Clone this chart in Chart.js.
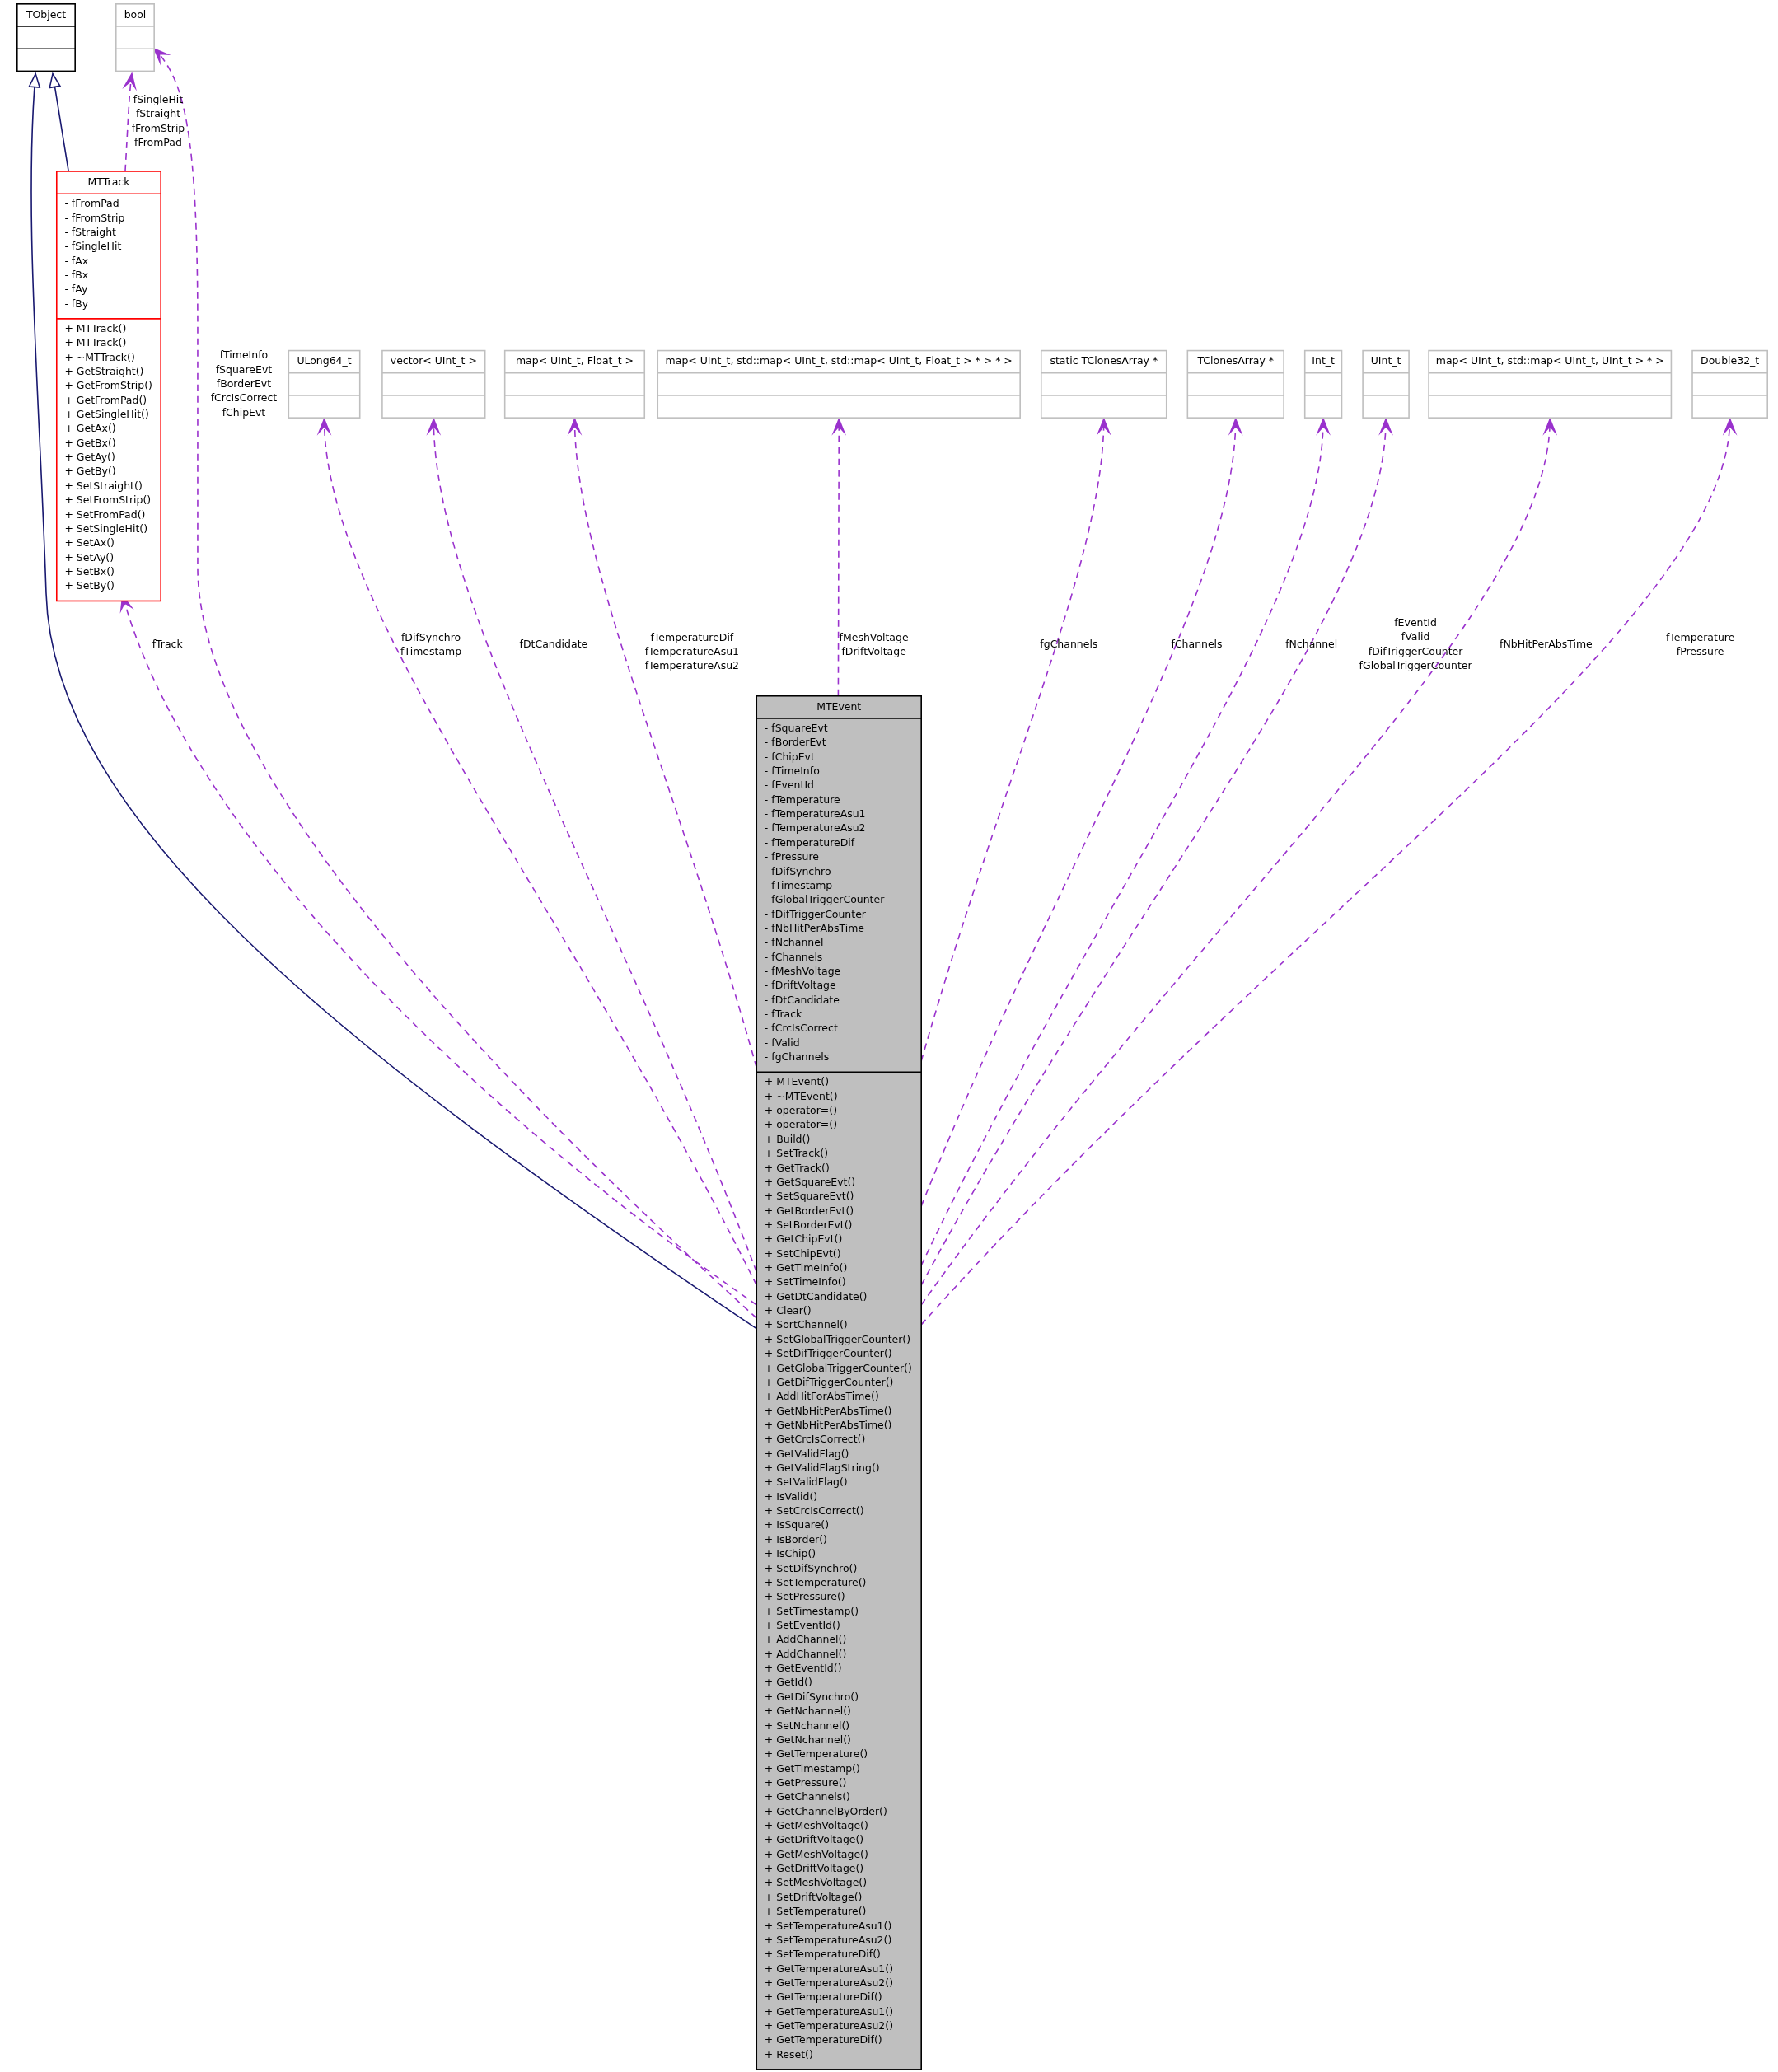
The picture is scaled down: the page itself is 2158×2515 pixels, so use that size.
<!DOCTYPE html>
<html><head><meta charset="utf-8">
<script src="https://cdn.jsdelivr.net/npm/chart.js@4/dist/chart.umd.min.js"></script>
<style>body{margin:0;background:#fff}#wrap{width:2158px;height:2515px}</style>
</head><body><div id="wrap"><canvas id="c" width="2158" height="2515"></canvas></div>
<script>
// class names, members, relation labels
const trackAttrs = ['fFromPad','fFromStrip','fStraight','fSingleHit','fAx','fBx','fAy','fBy'];
const trackMethods = ['MTTrack()','MTTrack()','~MTTrack()','GetStraight()','GetFromStrip()','GetFromPad()','GetSingleHit()','GetAx()','GetBx()','GetAy()','GetBy()','SetStraight()','SetFromStrip()','SetFromPad()','SetSingleHit()','SetAx()','SetAy()','SetBx()','SetBy()'];
const eventAttrs = ['fSquareEvt','fBorderEvt','fChipEvt','fTimeInfo','fEventId','fTemperature','fTemperatureAsu1','fTemperatureAsu2','fTemperatureDif','fPressure','fDifSynchro','fTimestamp','fGlobalTriggerCounter','fDifTriggerCounter','fNbHitPerAbsTime','fNchannel','fChannels','fMeshVoltage','fDriftVoltage','fDtCandidate','fTrack','fCrcIsCorrect','fValid','fgChannels'];
const eventMethods = ['MTEvent()','~MTEvent()','operator=()','operator=()','Build()','SetTrack()','GetTrack()','GetSquareEvt()','SetSquareEvt()','GetBorderEvt()','SetBorderEvt()','GetChipEvt()','SetChipEvt()','GetTimeInfo()','SetTimeInfo()','GetDtCandidate()','Clear()','SortChannel()','SetGlobalTriggerCounter()','SetDifTriggerCounter()','GetGlobalTriggerCounter()','GetDifTriggerCounter()','AddHitForAbsTime()','GetNbHitPerAbsTime()','GetNbHitPerAbsTime()','GetCrcIsCorrect()','GetValidFlag()','GetValidFlagString()','SetValidFlag()','IsValid()','SetCrcIsCorrect()','IsSquare()','IsBorder()','IsChip()','SetDifSynchro()','SetTemperature()','SetPressure()','SetTimestamp()','SetEventId()','AddChannel()','AddChannel()','GetEventId()','GetId()','GetDifSynchro()','GetNchannel()','SetNchannel()','GetNchannel()','GetTemperature()','GetTimestamp()','GetPressure()','GetChannels()','GetChannelByOrder()','GetMeshVoltage()','GetDriftVoltage()','GetMeshVoltage()','GetDriftVoltage()','SetMeshVoltage()','SetDriftVoltage()','SetTemperature()','SetTemperatureAsu1()','SetTemperatureAsu2()','SetTemperatureDif()','GetTemperatureAsu1()','GetTemperatureAsu2()','GetTemperatureDif()','GetTemperatureAsu1()','GetTemperatureAsu2()','GetTemperatureDif()','Reset()'];
const typeNames = ['ULong64_t','vector< UInt_t >','map< UInt_t, Float_t >','map< UInt_t, std::map< UInt_t, std::map< UInt_t, Float_t > * > * >','static TClonesArray *','TClonesArray *','Int_t','UInt_t','map< UInt_t, std::map< UInt_t, UInt_t > * >','Double32_t'];
const typeLabels = [['fDifSynchro','fTimestamp'],['fDtCandidate'],['fTemperatureDif','fTemperatureAsu1','fTemperatureAsu2'],['fMeshVoltage','fDriftVoltage'],['fgChannels'],['fChannels'],['fNchannel'],['fEventId','fValid','fDifTriggerCounter','fGlobalTriggerCounter'],['fNbHitPerAbsTime'],['fTemperature','fPressure']];
const boolFromTrack = ['fSingleHit','fStraight','fFromStrip','fFromPad'];
const boolFromEvent = ['fTimeInfo','fSquareEvt','fBorderEvt','fCrcIsCorrect','fChipEvt'];
const trackLabel = ['fTrack'];

// layout (diagram units, ~1349 x 1572)
const typeBoxX = [[219,273],[290,368],[383,489],[499,774],[790,885],[901,974],[990,1018],[1034,1069],[1084,1268],[1284,1341]];
const typeStart = [[574,975],[574,965],[574,810],[636,528],[699,805],[699,915],[699,960],[699,975],[699,990],[699,1005]];
const typeLabelPos = [[327,484],[420,489],[525,484],[663,484],[811,489],[908,489],[995,489],[1074,473],[1173,489],[1290,484]];
const LH = 10.85, FS = 7.8;
const PURPLE = '#9a32cd', NAVY = '#191970';

const diagram = {
  id: 'diagram',
  afterDraw(chart) {
    const ctx = chart.ctx, sx = chart.scales.x, sy = chart.scales.y;
    const X = v => sx.getPixelForValue(v), Y = v => sy.getPixelForValue(v);
    const k = X(1) - X(0);
    ctx.save();
    ctx.textBaseline = 'middle';
    const font = () => { ctx.font = (FS * k) + 'px "DejaVu Sans"'; };
    function rect(x1, y1, x2, y2, col, fill) {
      ctx.fillStyle = fill || '#fff'; ctx.fillRect(X(x1), Y(y1), X(x2) - X(x1), Y(y2) - Y(y1));
      ctx.strokeStyle = col; ctx.lineWidth = 1.6; ctx.strokeRect(X(x1), Y(y1), X(x2) - X(x1), Y(y2) - Y(y1));
    }
    function hline(x1, x2, y, col) { ctx.strokeStyle = col; ctx.beginPath(); ctx.moveTo(X(x1), Y(y)); ctx.lineTo(X(x2), Y(y)); ctx.stroke(); }
    function text(t, x, y, align) { font(); ctx.fillStyle = '#000'; ctx.textAlign = align || 'left'; ctx.fillText(t, X(x), Y(y)); }
    function cls(name, x1, x2, y1, attrs, methods, col, fill) {
      const yA = y1 + 17;
      const yM = attrs.length ? yA + 8 + attrs.length * LH : yA + 17;
      const y2 = methods.length ? yM + 8 + methods.length * LH : yM + 17;
      rect(x1, y1, x2, y2, col, fill);
      hline(x1, x2, yA, col); hline(x1, x2, yM, col);
      text(name, (x1 + x2) / 2, y1 + 8.5, 'center');
      attrs.forEach((a, i) => text('- ' + a, x1 + 6, yA + 8 + i * LH));
      methods.forEach((m, i) => text('+ ' + m, x1 + 6, yM + 8 + i * LH));
    }
    function path(segs, col, dashed) {
      ctx.strokeStyle = col; ctx.lineWidth = 1.6; ctx.setLineDash(dashed ? [8, 6] : []);
      ctx.beginPath(); ctx.moveTo(X(segs[0][0]), Y(segs[0][1]));
      for (let i = 1; i < segs.length; i++) {
        const s = segs[i];
        if (s.length === 2) ctx.lineTo(X(s[0]), Y(s[1]));
        else ctx.bezierCurveTo(X(s[0]), Y(s[1]), X(s[2]), Y(s[3]), X(s[4]), Y(s[5]));
      }
      ctx.stroke(); ctx.setLineDash([]);
      const last = segs[segs.length - 1];
      const ex = last[last.length - 2], ey = last[last.length - 1];
      let px, py;
      if (last.length === 6) { px = last[2]; py = last[3]; } else { const p = segs[segs.length - 2]; px = p[p.length - 2]; py = p[p.length - 1]; }
      const a = Math.atan2(Y(ey) - Y(py), X(ex) - X(px));
      const L = 10 * k, W = 4 * k;
      const tx = X(ex), ty = Y(ey);
      ctx.beginPath();
      if (dashed) {
        ctx.moveTo(tx, ty);
        ctx.lineTo(tx - L * Math.cos(a) + W * Math.sin(a), ty - L * Math.sin(a) - W * Math.cos(a));
        ctx.lineTo(tx - 0.55 * L * Math.cos(a), ty - 0.55 * L * Math.sin(a));
        ctx.lineTo(tx - L * Math.cos(a) - W * Math.sin(a), ty - L * Math.sin(a) + W * Math.cos(a));
        ctx.closePath(); ctx.fillStyle = col; ctx.fill(); ctx.stroke();
      } else {
        ctx.moveTo(tx, ty);
        ctx.lineTo(tx - L * Math.cos(a) + W * Math.sin(a), ty - L * Math.sin(a) - W * Math.cos(a));
        ctx.lineTo(tx - L * Math.cos(a) - W * Math.sin(a), ty - L * Math.sin(a) + W * Math.cos(a));
        ctx.closePath(); ctx.fillStyle = '#fff'; ctx.fill(); ctx.stroke();
      }
    }
    function label(lines, x, y) { lines.forEach((t, i) => text(t, x, y + i * LH, 'center')); }

    // edges
    path([[574, 1008], [250, 790, 40, 620, 35, 450], [30, 300, 18, 160, 27, 56]], NAVY, false);
    path([[52, 130], [40, 56]], NAVY, false);
    path([[95, 130], [97, 95, 98, 70, 100, 56]], PURPLE, true);
    path([[574, 1000], [420, 860, 150, 600, 150, 430], [150, 250], [150, 100, 140, 60, 117, 37]], PURPLE, true);
    path([[574, 990], [330, 820, 140, 620, 93, 452]], PURPLE, true);
    typeStart.forEach((s, i) => {
      const tx = (typeBoxX[i][0] + typeBoxX[i][1]) / 2, ty = 318;
      const c1x = s[0] + 0.45 * (tx - s[0]), c1y = s[1] + 0.45 * (ty - s[1]);
      const c2y = ty + 0.22 * (s[1] - ty);
      path([s, [c1x, c1y, tx, c2y, tx, ty]], PURPLE, true);
    });

    // nodes
    cls('TObject', 13, 57, 3, [], [], '#000');
    cls('bool', 88, 117, 3, [], [], '#bfbfbf');
    typeNames.forEach((n, i) => cls(n, typeBoxX[i][0], typeBoxX[i][1], 266, [], [], '#bfbfbf'));
    cls('MTTrack', 43, 122, 130, trackAttrs, trackMethods, '#ff0000');
    cls('MTEvent', 574, 699, 528, eventAttrs, eventMethods, '#000', '#bfbfbf');

    // edge labels
    label(boolFromTrack, 120, 76);
    label(boolFromEvent, 185, 270);
    label(trackLabel, 127, 489);
    typeLabels.forEach((l, i) => label(l, typeLabelPos[i][0], typeLabelPos[i][1]));
    ctx.restore();
  }
};

new Chart(document.getElementById('c'), {
  type: 'scatter',
  data: { datasets: [{ data: [], pointRadius: 0 }] },
  options: {
    responsive: false, animation: false,
    layout: { padding: 0 },
    plugins: { legend: { display: false }, tooltip: { enabled: false } },
    scales: {
      x: { type: 'linear', min: 0, max: 1349, display: false },
      y: { type: 'linear', min: 0, max: 1572, reverse: true, display: false }
    }
  },
  plugins: [diagram]
});
</script></body></html>
